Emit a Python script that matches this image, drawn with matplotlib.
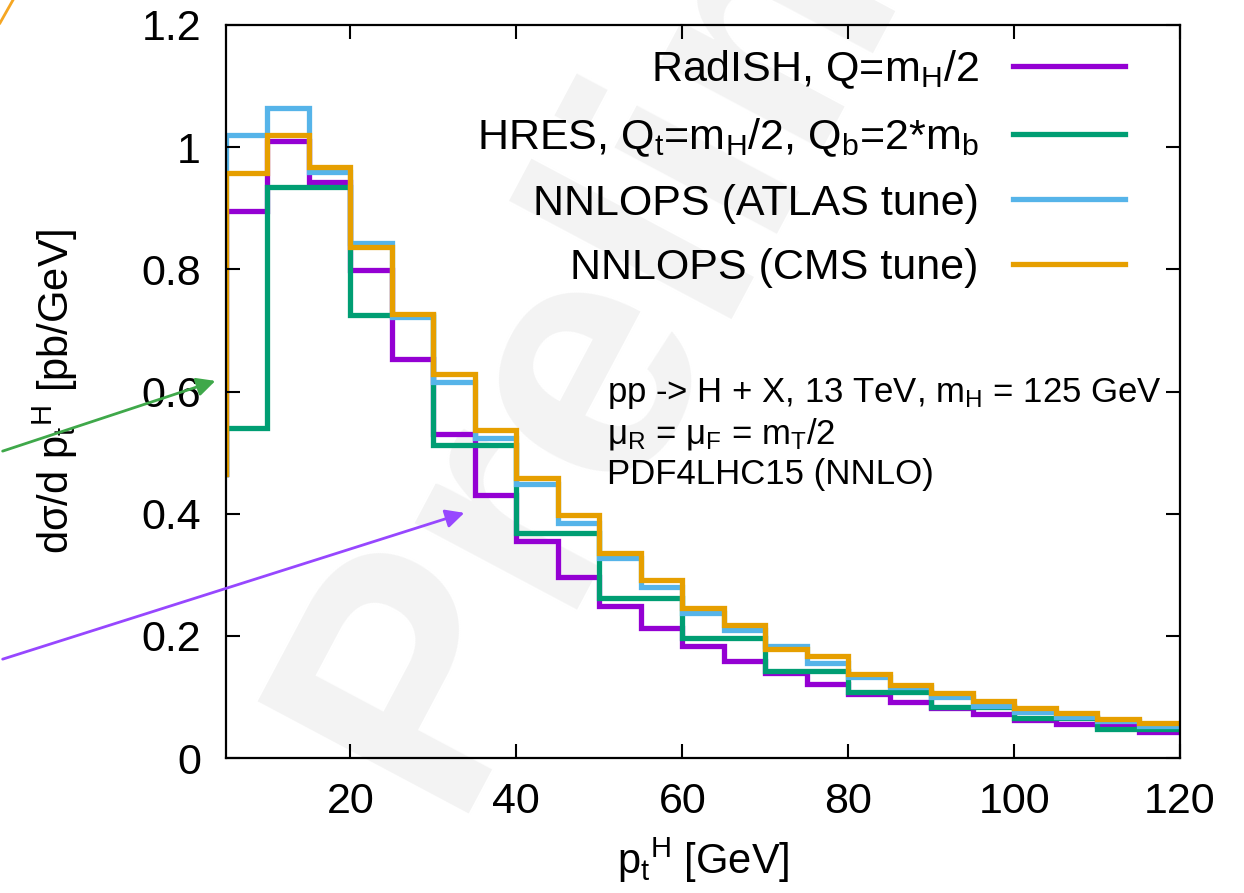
import matplotlib
matplotlib.use('Agg')
import matplotlib.pyplot as plt
import numpy as np
from matplotlib.lines import Line2D
from matplotlib.patches import FancyArrowPatch

plt.rcParams['font.family'] = ['Liberation Sans', 'DejaVu Sans']
plt.rcParams['mathtext.fontset'] = 'custom'
plt.rcParams['mathtext.rm'] = 'Liberation Sans'
plt.rcParams['mathtext.it'] = 'Liberation Sans:italic'
plt.rcParams['mathtext.bf'] = 'Liberation Sans:bold'

# bin edges in pt^H [GeV], 5 GeV bins
edges = np.arange(0, 125, 5)

radish = [0.465, 0.895, 1.010, 0.943, 0.799, 0.653, 0.531, 0.430, 0.355, 0.296,
          0.249, 0.213, 0.183, 0.159, 0.139, 0.121, 0.104, 0.092, 0.082, 0.072,
          0.062, 0.056, 0.053, 0.043]
hres = [0.465, 0.540, 0.935, 0.935, 0.725, 0.725, 0.513, 0.513, 0.369, 0.369,
        0.262, 0.262, 0.197, 0.197, 0.142, 0.142, 0.108, 0.108, 0.084, 0.084,
        0.065, 0.065, 0.048, 0.048]
nnlops_atlas = [0.465, 1.020, 1.064, 0.960, 0.843, 0.722, 0.616, 0.524, 0.448, 0.385,
                0.328, 0.280, 0.238, 0.209, 0.184, 0.156, 0.132, 0.116, 0.100, 0.085,
                0.076, 0.067, 0.060, 0.052]
nnlops_cms = [0.465, 0.957, 1.020, 0.967, 0.836, 0.727, 0.629, 0.537, 0.458, 0.398,
              0.336, 0.291, 0.246, 0.218, 0.179, 0.167, 0.137, 0.119, 0.107, 0.093,
              0.082, 0.074, 0.064, 0.057]

labels = [r'RadISH, Q=m$_\mathrm{H}$/2',
          r'HRES, Q$_\mathrm{t}$=m$_\mathrm{H}$/2, Q$_\mathrm{b}$=2*m$_\mathrm{b}$',
          'NNLOPS (ATLAS tune)',
          'NNLOPS (CMS tune)']
colors = ['#9400d3', '#009e73', '#56b4e9', '#e69f00']
series = [radish, hres, nnlops_atlas, nnlops_cms]

xticks = [20, 40, 60, 80, 100, 120]
yticks = [0, 0.2, 0.4, 0.6, 0.8, 1.0, 1.2]
yticklabels = ['0', '0.2', '0.4', '0.6', '0.8', '1', '1.2']

fig = plt.figure(figsize=(12.44, 8.93), dpi=100)
ax = fig.add_axes([226/1244, 1 - 758/893, (1180 - 226)/1244, (758 - 25)/893])
ax.set_facecolor('none')

# faint watermark behind everything
fig.text(0.359, 0.0896, 'Preliminary', rotation=62, rotation_mode='anchor',
         ha='left', va='baseline', fontsize=250, weight='bold',
         color='#f3f3f3', zorder=-1)

for vals, c in zip(series, colors):
    ax.stairs(vals, edges, color=c, lw=3.8, baseline=None)

ax.set_xlim(5, 120)
ax.set_ylim(0, 1.2)
ax.set_xticks(xticks)
ax.set_yticks(yticks)
ax.set_yticklabels(yticklabels)
ax.tick_params(direction='in', length=10, width=1.5, top=True, right=True,
               labelsize=31)
ax.tick_params(axis='y', pad=18)
ax.tick_params(axis='x', pad=17)
for s in ax.spines.values():
    s.set_linewidth(1.6)

ax.set_xlabel(r'p$_\mathrm{t}$$^\mathrm{H}$ [GeV]', fontsize=30, labelpad=10)
ax.set_ylabel(r'dσ/d p$_\mathrm{t}$$^\mathrm{H}$ [pb/GeV]', fontsize=30, labelpad=44)

handles = [Line2D([], [], color=c, lw=3.8) for c in colors]
ax.legend(handles, labels, loc='upper right', bbox_to_anchor=(0.9423, 0.968),
          frameon=False, markerfirst=False, fontsize=31, handlelength=2.6,
          handletextpad=0.8, labelspacing=0.58, borderpad=0, borderaxespad=0)

info = [r'pp -> H + X, 13 TeV, m$_\mathrm{H}$ = 125 GeV',
        r'μ$_\mathrm{R}$ = μ$_\mathrm{F}$ = m$_\mathrm{T}$/2',
        'PDF4LHC15 (NNLO)']
for i, line in enumerate(info):
    ax.text(0.399, 0.4857 - 0.056 * i, line, transform=ax.transAxes,
            fontsize=25, ha='left', va='baseline')

# annotation arrows from outside the frame
fig.add_artist(FancyArrowPatch((0, 1 - 452/893), (218/1244, 1 - 380/893),
                               transform=fig.transFigure, arrowstyle='-|>',
                               mutation_scale=28, lw=2, color='#3fa84a'))
fig.add_artist(FancyArrowPatch((0, 1 - 660/893), (467/1244, 1 - 512/893),
                               transform=fig.transFigure, arrowstyle='-|>',
                               mutation_scale=28, lw=2, color='#9747ff'))
fig.add_artist(Line2D([0, 13/1244], [1 - 23/893, 1], transform=fig.transFigure,
                      color='#f5a623', lw=2))

plt.savefig('out.png', dpi=100)
